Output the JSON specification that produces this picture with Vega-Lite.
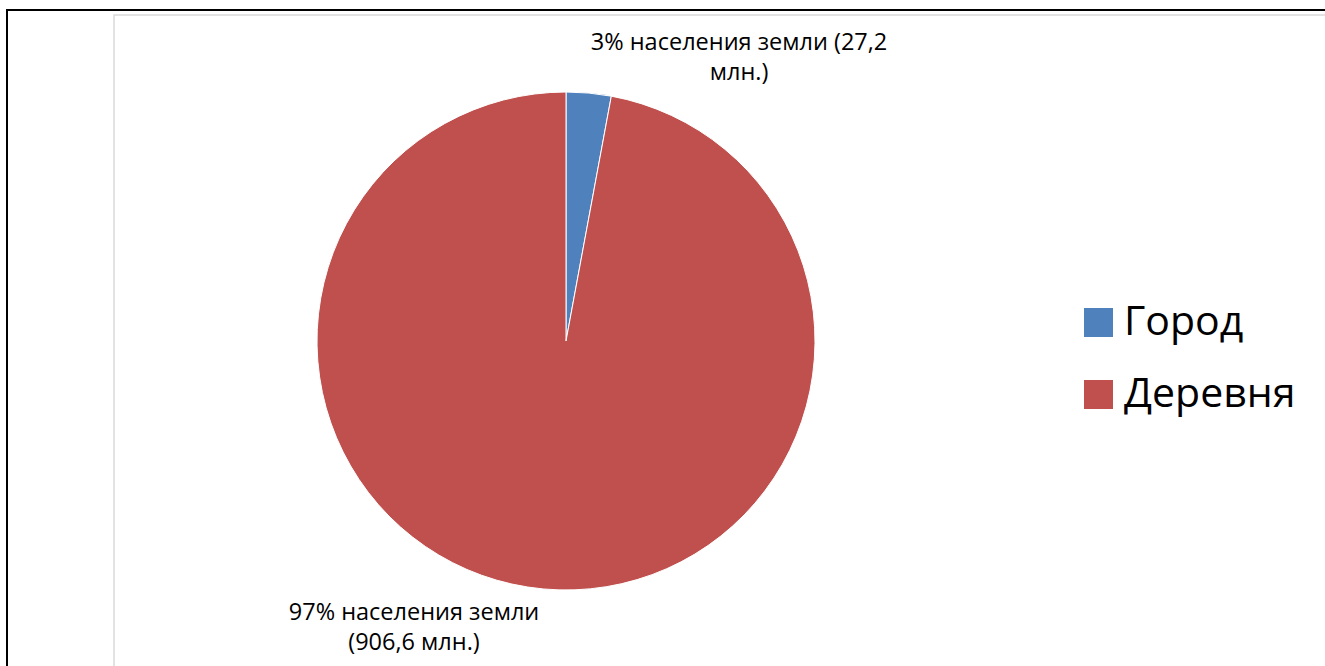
{
  "$schema": "https://vega.github.io/schema/vega-lite/v6.json",
  "width": 1325,
  "height": 666,
  "autosize": "none",
  "padding": 0,
  "background": "white",
  "config": {"view": {"stroke": null}},
  "datasets": {
    "pop": [
      {"cat": "Город", "value": 27.2, "label": "3% населения земли (27,2\nмлн.)"},
      {"cat": "Деревня", "value": 906.6, "label": "97% населения земли\n(906,6 млн.)"}
    ]
  },
  "layer": [
    {
      "data": {"values": [{}]},
      "mark": {"type": "rect", "x": 7, "y": 10, "x2": 1500, "y2": 900, "fill": null, "stroke": "#000000", "strokeWidth": 2, "clip": true},
      "encoding": {}
    },
    {
      "data": {"values": [{}]},
      "mark": {"type": "rect", "x": 114, "y": 15, "x2": 1500, "y2": 900, "fill": null, "stroke": "#d9d9d9", "strokeWidth": 1.5, "clip": true},
      "encoding": {}
    },
    {
      "data": {"name": "pop"},
      "mark": {"type": "arc", "radius": 249, "x": 566, "y": 341, "stroke": "#ffffff", "strokeWidth": 1},
      "encoding": {
        "theta": {"field": "value", "type": "quantitative", "stack": true},
        "order": {"field": "cat", "type": "ordinal", "sort": "ascending"},
        "color": {
          "field": "cat",
          "type": "nominal",
          "scale": {"domain": ["Город", "Деревня"], "range": ["#4F81BD", "#C0504D"]},
          "legend": {
            "title": null,
            "orient": "none",
            "legendX": 1078,
            "legendY": 302,
            "symbolType": "square",
            "symbolSize": 841,
            "symbolStrokeWidth": 0,
            "labelFont": "Open Sans",
            "labelFontSize": 41,
            "labelColor": "#000000",
            "labelOffset": 5,
            "labelLimit": 400,
            "rowPadding": 30,
            "padding": 0
          }
        }
      }
    },
    {
      "data": {"name": "pop"},
      "mark": {"type": "text", "x": 566, "y": 341, "radius": 344.6, "thetaOffset": 0.4346, "align": "center", "baseline": "middle", "font": "Open Sans", "fontSize": 23.5, "lineHeight": 30, "lineBreak": "\n", "color": "#000000"},
      "encoding": {
        "theta": {"field": "value", "type": "quantitative", "stack": true},
        "order": {"field": "cat", "type": "ordinal", "sort": "ascending"},
        "text": {"condition": {"test": "datum.cat === 'Город'", "field": "label"}, "value": ""}
      }
    },
    {
      "data": {"name": "pop"},
      "mark": {"type": "text", "x": 566, "y": 341, "radius": 311.6, "thetaOffset": 0.418, "align": "center", "baseline": "middle", "font": "Open Sans", "fontSize": 23.5, "lineHeight": 30, "lineBreak": "\n", "color": "#000000"},
      "encoding": {
        "theta": {"field": "value", "type": "quantitative", "stack": true},
        "order": {"field": "cat", "type": "ordinal", "sort": "ascending"},
        "text": {"condition": {"test": "datum.cat === 'Деревня'", "field": "label"}, "value": ""}
      }
    }
  ]
}
